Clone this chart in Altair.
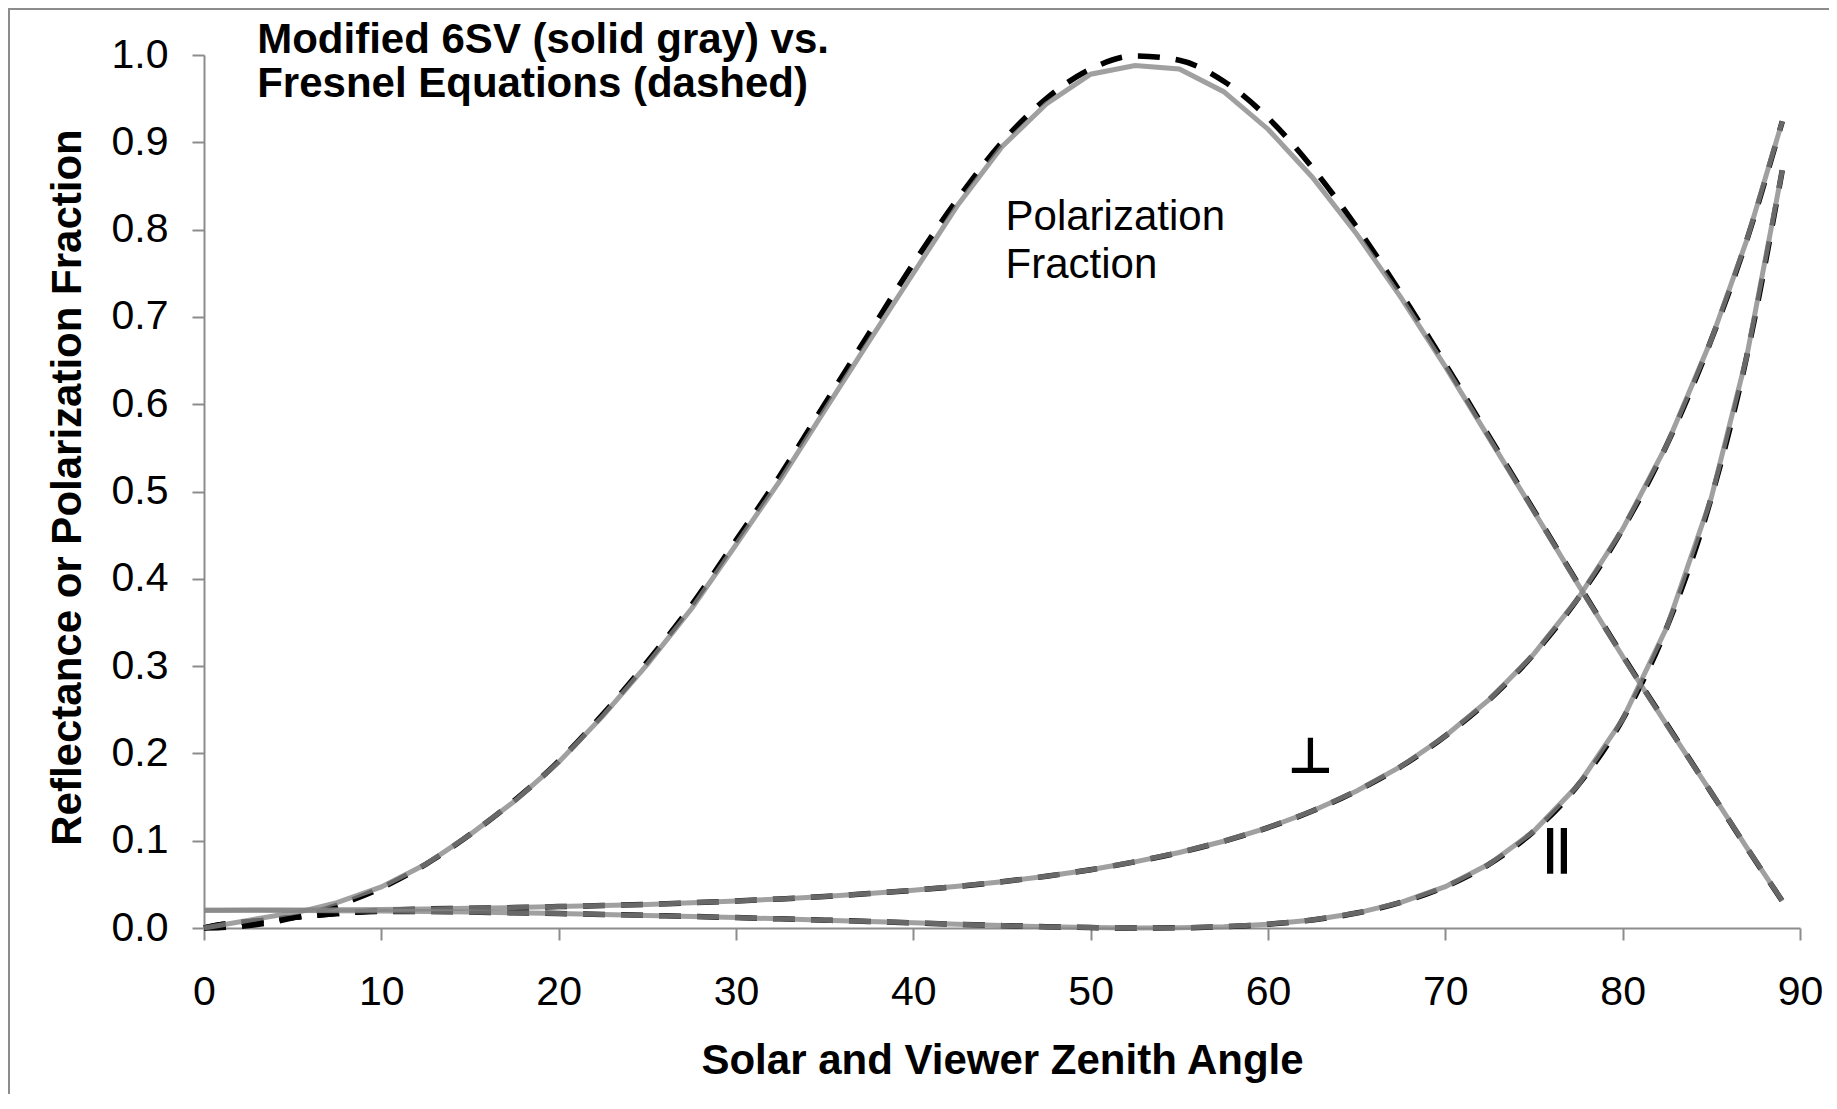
import altair as alt
import pandas as pd

# ---- data ----
angles = [0, 1, 3, 5.5, 7.5, 10, 12.5, 15, 17.5, 20, 22.5, 25, 27.5, 30, 32.5, 35,
          37.5, 40, 42.5, 45, 47.5, 50, 52.5, 55, 57.5, 60, 62.5, 65, 67.5, 70,
          72.5, 75, 77.5, 80, 82.5, 85, 87, 89]

# Fresnel equations (dashed)
pf_fresnel = [0.0, 0.0005, 0.004, 0.014, 0.026, 0.046, 0.073, 0.107, 0.146, 0.191,
              0.245, 0.305, 0.370, 0.444, 0.519, 0.600, 0.681, 0.761, 0.835, 0.900,
              0.950, 0.984, 0.999, 0.994, 0.970, 0.928, 0.871, 0.803, 0.727, 0.646,
              0.562, 0.478, 0.394, 0.312, 0.233, 0.155, 0.092, 0.031]
rs_fresnel = [0.0, 0.004, 0.008, 0.013, 0.0165, 0.0200, 0.0219, 0.0226, 0.0234, 0.0245,
              0.0258, 0.0270, 0.0289, 0.0310, 0.0333, 0.0360, 0.0394, 0.0432, 0.0477,
              0.0530, 0.0593, 0.0668, 0.0758, 0.0865, 0.0994, 0.1150, 0.1340, 0.157,
              0.185, 0.220, 0.262, 0.314, 0.378, 0.457, 0.554, 0.674, 0.788, 0.924]
rp_fresnel = [0.0, 0.004, 0.008, 0.013, 0.0165, 0.0190, 0.0189, 0.0182, 0.0175, 0.0166,
              0.0156, 0.0144, 0.0133, 0.0119, 0.0105, 0.0090, 0.0075, 0.0059, 0.0043,
              0.0028, 0.0015, 0.0005, 0.0000, 0.0002, 0.0015, 0.0043, 0.0092, 0.0171,
              0.0293, 0.0473, 0.0735, 0.111, 0.164, 0.239, 0.345, 0.493, 0.655, 0.868]

# Modified 6SV (solid gray)
pf_6sv = [0.0, 0.0035, 0.0105, 0.019, 0.029, 0.047, 0.073, 0.107, 0.145, 0.190,
          0.243, 0.302, 0.366, 0.439, 0.513, 0.593, 0.672, 0.750, 0.828, 0.895,
          0.944, 0.978, 0.988, 0.984, 0.958, 0.915, 0.860, 0.795, 0.722, 0.643,
          0.560, 0.477, 0.393, 0.311, 0.232, 0.155, 0.092, 0.031]
rs_6sv = [0.0204, 0.0204, 0.0205, 0.0207, 0.0209, 0.0213, 0.0219, 0.0226, 0.0234, 0.0245,
          0.0258, 0.0270, 0.0289, 0.0310, 0.0333, 0.0360, 0.0394, 0.0432, 0.0477,
          0.0530, 0.0593, 0.0668, 0.0758, 0.0865, 0.0994, 0.1150, 0.1340, 0.157,
          0.185, 0.220, 0.262, 0.314, 0.378, 0.457, 0.554, 0.674, 0.788, 0.924]
rp_6sv = [0.0204, 0.0204, 0.0203, 0.0201, 0.0198, 0.0194, 0.0189, 0.0182, 0.0175, 0.0166,
          0.0156, 0.0144, 0.0133, 0.0119, 0.0105, 0.0090, 0.0075, 0.0059, 0.0043,
          0.0028, 0.0015, 0.0005, 0.0000, 0.0002, 0.0015, 0.0043, 0.0092, 0.0171,
          0.0293, 0.0473, 0.0735, 0.111, 0.164, 0.239, 0.345, 0.493, 0.655, 0.868]

x_ticks = [0, 10, 20, 30, 40, 50, 60, 70, 80, 90]
y_ticks = [0.0, 0.1, 0.2, 0.3, 0.4, 0.5, 0.6, 0.7, 0.8, 0.9, 1.0]

title_lines = ["Modified 6SV (solid gray) vs.", "Fresnel Equations (dashed)"]
title_x = [3.0, 3.0]
title_y = [1.002, 0.952]

pf_label_lines = ["Polarization", "Fraction"]
pf_label_x = [45.2, 45.2]
pf_label_y = [0.7995, 0.7446]

perp_label = ["\u22a5"]
perp_x = [62.4]
perp_y = [0.1776]
par_label = ["||"]
par_x = [76.3]
par_y = [0.0745]


def long_frame(vals_list, names):
    rows = []
    for name, vals in zip(names, vals_list):
        for a, v in zip(angles, vals):
            rows.append({"angle": a, "value": v, "curve": name})
    return pd.DataFrame(rows)


fres_df = long_frame([pf_fresnel, rs_fresnel, rp_fresnel], ["PF", "Rs", "Rp"])
sv_df = long_frame([pf_6sv, rs_6sv, rp_6sv], ["PF", "Rs", "Rp"])

AX = "#8c8c8c"
FONT = "Liberation Sans"

x_enc = alt.X(
    "angle:Q",
    scale=alt.Scale(domain=[0, 90], nice=False, zero=False),
    axis=alt.Axis(
        values=x_ticks, format="d", title="Solar and Viewer Zenith Angle",
        titleFont=FONT, titleFontSize=42, titleFontWeight="bold", titleColor="black",
        titleY=145, titleBaseline="alphabetic",
        labelFont=FONT, labelFontSize=41, labelColor="black", labelPadding=32,
        labelFlush=False, tickSize=12, tickWidth=2, tickColor=AX,
        domainColor=AX, domainWidth=2, grid=False,
    ),
)
y_enc = alt.Y(
    "value:Q",
    scale=alt.Scale(domain=[0, 1], nice=False),
    axis=alt.Axis(
        values=y_ticks, format=".1f", title="Reflectance or Polarization Fraction",
        titleFont=FONT, titleFontSize=42, titleFontWeight="bold", titleColor="black",
        titleAngle=-90, titleX=-124, titleY=432, titleBaseline="alphabetic",
        titleAlign="center",
        labelFont=FONT, labelFontSize=41, labelColor="black", labelPadding=24,
        labelFlush=False, tickSize=12, tickWidth=2, tickColor=AX,
        domainColor=AX, domainWidth=2, grid=False,
    ),
)

dashed = alt.Chart(fres_df).mark_line(
    color="black", strokeWidth=5.5, strokeDash=[22, 16], interpolate="monotone"
).encode(x=x_enc, y=y_enc, detail="curve:N")

solid = alt.Chart(sv_df).mark_line(
    color="#858585", strokeWidth=5, opacity=0.78, interpolate="linear"
).encode(x="angle:Q", y="value:Q", detail="curve:N")

title_df = pd.DataFrame({"t": title_lines, "x": title_x, "y": title_y})
title_txt = alt.Chart(title_df).mark_text(
    font=FONT, fontSize=42, fontWeight="bold", align="left", baseline="alphabetic",
    color="black"
).encode(x="x:Q", y="y:Q", text="t:N")

pf_df = pd.DataFrame({"t": pf_label_lines, "x": pf_label_x, "y": pf_label_y})
pf_txt = alt.Chart(pf_df).mark_text(
    font=FONT, fontSize=42, align="left", baseline="alphabetic", color="black"
).encode(x="x:Q", y="y:Q", text="t:N")

perp_df = pd.DataFrame({"t": perp_label, "x": perp_x, "y": perp_y})
perp_txt = alt.Chart(perp_df).mark_text(
    font="DejaVu Sans", fontSize=50, fontWeight="bold", align="center",
    baseline="alphabetic", color="black"
).encode(x="x:Q", y="y:Q", text="t:N")

par_df = pd.DataFrame({"t": par_label, "x": par_x, "y": par_y})
par_txt = alt.Chart(par_df).mark_text(
    font=FONT, fontSize=49, fontWeight="bold", align="center", baseline="alphabetic",
    color="black"
).encode(x="x:Q", y="y:Q", text="t:N")

frame_df = pd.DataFrame({"k": [1]})
frame_left = alt.Chart(frame_df).mark_rule(color=AX, strokeWidth=2).encode(
    x=alt.value(-195), y=alt.value(-46), y2=alt.value(1100)
)
frame_top = alt.Chart(frame_df).mark_rule(color=AX, strokeWidth=2).encode(
    x=alt.value(-196), x2=alt.value(1700), y=alt.value(-46)
)

chart = alt.layer(
    dashed, solid, title_txt, pf_txt, perp_txt, par_txt, frame_left, frame_top
).properties(
    width=1596, height=873,
    padding={"left": 196, "top": 47, "right": 29, "bottom": 166},
    autosize=alt.AutoSizeParams(type="none"),
    background="white",
).configure_view(stroke=None)

chart.save("out.html", embed_options={"renderer": "svg", "actions": False})
